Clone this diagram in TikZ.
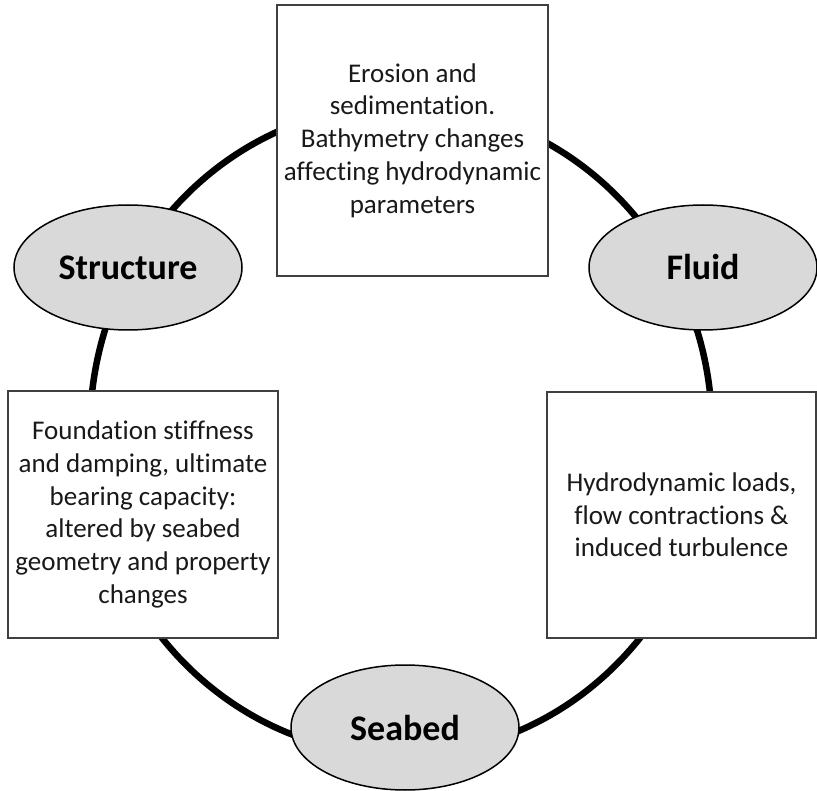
\documentclass[tikz,border=0pt]{standalone}
\usepackage{fontspec}
\setmainfont{Carlito}[Ligatures=NoCommon]
\usepackage[svgnames]{xcolor}
\usetikzlibrary{shapes.geometric}

\definecolor{topicgray}{HTML}{D9D9D9}
\definecolor{framegray}{HTML}{404040}

\tikzset{
    topic/.style={ellipse, draw=black, line width=1.5pt, fill=topicgray,
        inner sep=0pt, font=\fontsize{36}{43}\selectfont\bfseries},
    note/.style={rectangle, draw=framegray, line width=1.4pt, fill=white,
        align=center, inner sep=0pt, text=black!90,
        font=\fontsize{27}{32.7}\selectfont}
}

\begin{document}
\begin{tikzpicture}[x=1pt, y=-1pt]
            \useasboundingbox (0,0) rectangle (817,791);

            % ring
            \coordinate (hub) at (401,430);
            \draw[line width=6.5pt] (hub) ellipse [x radius=311, y radius=325];

            % notes
            \node[note, minimum width=271, minimum height=271] (erosion) at (412.5,140.5)
                {Erosion and\\sedimentation.\\Bathymetry changes\\affecting hydrodynamic\\parameters};
            \node[note, minimum width=270, minimum height=247] (foundation) at (143,514.5)
                {Foundation stiffness\\and damping, ultimate\\bearing capacity:\\altered by seabed\\geometry and property\\changes};
            \node[note, minimum width=269, minimum height=246] (loads) at (681.5,515)
                {Hydrodynamic loads,\\flow contractions \&\\induced turbulence};

            % topics
            \foreach \n/\x/\y/\t in {structure/128/267.5/Structure, fluid/703/267.5/Fluid, seabed/405/727.5/Seabed}
                {
                    \node[topic, minimum width=228, minimum height=125] (\n) at (\x,\y) {\t};
                }

        \end{tikzpicture}
\end{document}
